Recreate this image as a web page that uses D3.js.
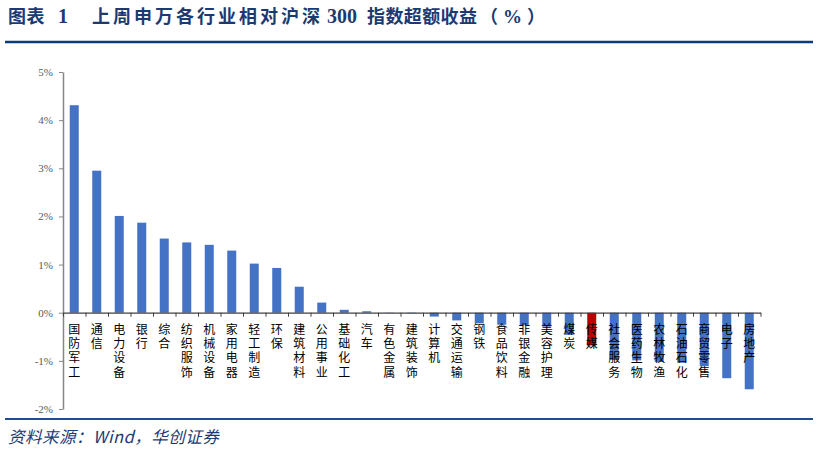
<!DOCTYPE html>
<html>
<head>
<meta charset="utf-8">
<script src="https://cdn.jsdelivr.net/npm/d3@7"></script>
<style>
  body { margin: 0; background: #fff; }
  svg { display: block; }
</style>
</head>
<body>
<script>
// Data
const categories = ["国防军工", "通信", "电力设备", "银行", "综合", "纺织服饰", "机械设备", "家用电器",
  "轻工制造", "环保", "建筑材料", "公用事业", "基础化工", "汽车", "有色金属", "建筑装饰", "计算机",
  "交通运输", "钢铁", "食品饮料", "非银金融", "美容护理", "煤炭", "传媒", "社会服务", "医药生物",
  "农林牧渔", "石油石化", "商贸零售", "电子", "房地产"];
const values = [4.31, 2.95, 2.01, 1.87, 1.54, 1.46, 1.41, 1.29, 1.02, 0.93, 0.54, 0.21, 0.06, 0.03,
  0.005, -0.01, -0.08, -0.16, -0.22, -0.25, -0.26, -0.29, -0.46, -0.68, -0.98, -0.99, -1.02, -1.04,
  -1.11, -1.36, -1.59];
const highlight = ["传媒"];
const yTicks = [-2, -1, 0, 1, 2, 3, 4, 5];

const W = 818, H = 450;
const plot = { left: 63, right: 760.5, top: 72, bottom: 409 };
const navy = "#1b3a72";

const svg = d3.select("body").append("svg")
  .attr("width", W)
  .attr("height", H);

// Title pieces and rule
const titleParts = [
  { text: "图表", x: 8, font: "Noto Sans CJK SC", size: 18, ls: 0.5 },
  { text: "1", x: 58, font: "Liberation Serif", size: 20, ls: 0 },
  { text: "上周申万各行业相对沪深", x: 92, font: "Noto Sans CJK SC", size: 18, ls: 3 },
  { text: "300", x: 327, font: "Liberation Serif", size: 20, ls: 0 },
  { text: "指数超额收益", x: 367, font: "Noto Sans CJK SC", size: 18, ls: 0.4 },
  { text: "（", x: 480, font: "Noto Sans CJK SC", size: 18, ls: 0 },
  { text: "%", x: 503, font: "Liberation Serif", size: 19, ls: 0 },
  { text: "）", x: 527, font: "Noto Sans CJK SC", size: 18, ls: 0 }
];
svg.append("g")
  .selectAll("text")
  .data(titleParts)
  .join("text")
  .attr("x", d => d.x)
  .attr("y", 23)
  .attr("font-family", d => d.font)
  .attr("font-size", d => d.size)
  .attr("letter-spacing", d => d.ls)
  .attr("font-weight", 700)
  .attr("fill", navy)
  .text(d => d.text);
svg.append("line")
  .attr("x1", 5).attr("x2", 813)
  .attr("y1", 42).attr("y2", 42)
  .attr("stroke", "#0f3a7a")
  .attr("stroke-width", 2.5);

// Scales
const x = d3.scaleBand()
  .domain(categories)
  .range([plot.left, plot.right])
  .paddingInner(0.6)
  .paddingOuter(0.3);

const xEdge = d3.scaleLinear()
  .domain([0, categories.length])
  .range([plot.left, plot.right]);

const y = d3.scaleLinear()
  .domain([-2, 5])
  .range([plot.bottom, plot.top]);

// Bars
svg.append("g")
  .selectAll("rect")
  .data(categories)
  .join("rect")
  .attr("x", d => x(d))
  .attr("width", x.bandwidth())
  .attr("y", (d, i) => y(Math.max(0, values[i])))
  .attr("height", (d, i) => Math.abs(y(values[i]) - y(0)))
  .attr("fill", d => highlight.includes(d) ? "#c00000" : "#4472c4");

// Y axis
const yAxis = svg.append("g")
  .attr("transform", `translate(${plot.left},0)`)
  .call(d3.axisLeft(y).tickValues(yTicks).tickFormat(d => d + "%").tickSize(4).tickSizeOuter(0));
yAxis.select(".domain").attr("stroke", "#868686").attr("stroke-width", 1.5);
yAxis.selectAll(".tick line").attr("stroke", "#868686");
yAxis.selectAll(".tick text")
  .attr("font-family", "Liberation Serif")
  .attr("font-size", 11)
  .attr("fill", "#595959")
  .attr("x", -10);

// X axis at zero with ticks between categories
const xAxis = svg.append("g")
  .attr("transform", `translate(0,${y(0)})`)
  .call(d3.axisBottom(xEdge).tickValues(d3.range(categories.length + 1)).tickFormat("").tickSize(4).tickSizeOuter(0));
xAxis.select(".domain").attr("stroke", "#404040").attr("stroke-width", 1.2);
xAxis.selectAll(".tick line").attr("stroke", "#404040");

// Vertical category labels, one character per line
const labels = svg.append("g")
  .selectAll("text")
  .data(categories)
  .join("text")
  .attr("font-family", "Noto Sans CJK SC")
  .attr("font-size", 12)
  .attr("fill", "#000")
  .attr("text-anchor", "middle");
labels.selectAll("tspan")
  .data(d => Array.from(d).map(ch => ({ ch, name: d })))
  .join("tspan")
  .attr("x", d => x(d.name) + x.bandwidth() / 2)
  .attr("y", (d, i) => y(0) + 21 + i * 14.3)
  .text(d => d.ch);

// Bottom rule and source
svg.append("line")
  .attr("x1", 5).attr("x2", 813)
  .attr("y1", 419).attr("y2", 419)
  .attr("stroke", "#1f4e8c")
  .attr("stroke-width", 2);
svg.append("text")
  .attr("x", 8).attr("y", 443)
  .attr("font-family", "Noto Sans CJK SC")
  .attr("font-style", "italic")
  .attr("font-size", 16.5)
  .attr("letter-spacing", 0.5)
  .attr("fill", navy)
  .text("资料来源：Wind，华创证券");
</script>
</body>
</html>
